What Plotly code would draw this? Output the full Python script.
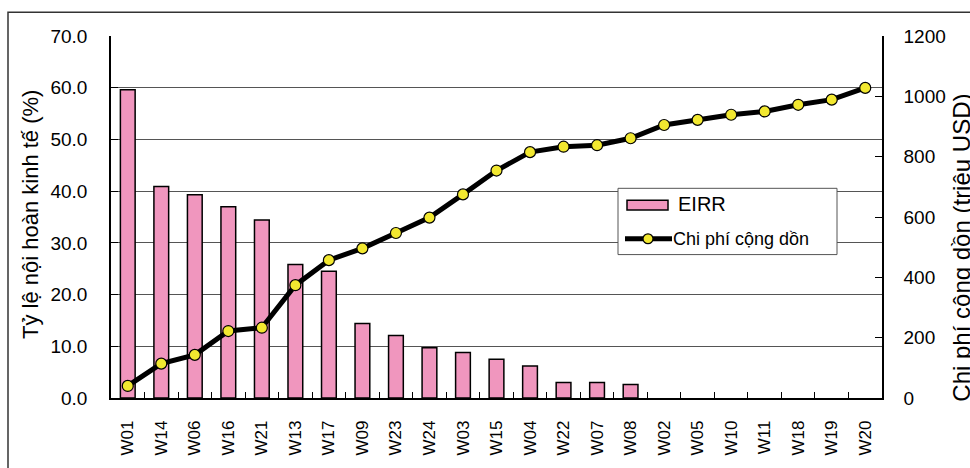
import plotly.graph_objects as go

# Project codes, ordered by descending EIRR
projects = ["W01", "W14", "W06", "W16", "W21", "W13", "W17", "W09", "W23", "W24",
            "W03", "W15", "W04", "W22", "W07", "W08", "W02", "W05", "W10", "W11",
            "W18", "W19", "W20"]

# Economic internal rate of return (%); no value for the last seven projects
eirr = [59.6, 40.9, 39.3, 37.0, 34.4, 25.8, 24.5, 14.4, 12.1, 9.7,
        8.8, 7.5, 6.2, 3.0, 3.0, 2.6, None, None, None, None,
        None, None, None]

# Cumulative cost (million USD)
cum_cost = [40, 114, 143, 222, 233, 374, 457, 496, 547, 598,
            675, 754, 815, 833, 838, 861, 905, 922, 939, 950,
            972, 989, 1028]

left_ticks = [0, 10, 20, 30, 40, 50, 60, 70]
right_ticks = [0, 200, 400, 600, 800, 1000, 1200]

BAR_NAME = "EIRR"
LINE_NAME = "Chi phí cộng dồn"

FONT = "Liberation Sans, Arial, sans-serif"
BAR_COLOR = "#F096BE"
MARK_COLOR = "#F2E830"

# plot area in pixels
L, R, T, B = 111, 882, 36, 402
W, H = R - L, B - T


def px(x):
    return (x - L) / W


def py(y):
    return (B - y) / H


fig = go.Figure()

fig.add_trace(go.Bar(
    x=projects, y=eirr, name=BAR_NAME,
    marker=dict(color=BAR_COLOR, line=dict(color="black", width=1.5)),
    yaxis="y",
))

fig.add_trace(go.Scatter(
    x=projects, y=cum_cost, name=LINE_NAME,
    mode="lines+markers",
    line=dict(color="black", width=5),
    marker=dict(color=MARK_COLOR, size=11, line=dict(color="black", width=1.2)),
    yaxis="y2",
))

# legend drawn as a framed box with its own keys
legend_shapes = [
    dict(type="rect", xref="paper", yref="paper",
         x0=px(618), x1=px(837), y0=py(257), y1=py(190),
         line=dict(color="#555555", width=1), fillcolor="white", layer="above"),
    dict(type="rect", xref="paper", yref="paper",
         x0=px(627), x1=px(668), y0=py(212), y1=py(202),
         line=dict(color="black", width=1.5), fillcolor=BAR_COLOR, layer="above"),
    dict(type="line", xref="paper", yref="paper",
         x0=px(625), x1=px(672), y0=py(241), y1=py(241),
         line=dict(color="black", width=5), layer="above"),
    dict(type="circle", xref="paper", yref="paper",
         x0=px(643), x1=px(653), y0=py(246), y1=py(236),
         line=dict(color="black", width=1.2), fillcolor=MARK_COLOR, layer="above"),
]

legend_texts = [
    dict(text=BAR_NAME, xref="paper", yref="paper", x=px(676), y=py(206),
         xanchor="left", yanchor="middle", showarrow=False,
         font=dict(family=FONT, size=20, color="black")),
    dict(text=LINE_NAME, xref="paper", yref="paper", x=px(671), y=py(241),
         xanchor="left", yanchor="middle", showarrow=False,
         font=dict(family=FONT, size=18, color="black")),
]

fig.update_layout(
    width=970, height=468,
    margin=dict(l=L, r=970 - R, t=T, b=468 - B),
    paper_bgcolor="white", plot_bgcolor="white",
    font=dict(family=FONT, color="black", size=18),
    bargap=0.56,
    showlegend=False,
    xaxis=dict(
        type="category", range=[-0.5, len(projects) - 0.5],
        tickangle=-90, tickfont=dict(size=17),
        ticks="inside", tickson="boundaries", ticklen=6, tickcolor="black",
        showline=True, linecolor="black", linewidth=1.5,
        showgrid=False, ticklabelstandoff=14,
    ),
    yaxis=dict(
        range=[0, 70], tickvals=left_ticks, tickformat=".1f",
        tickfont=dict(size=19),
        ticks="inside", ticklen=7, tickcolor="black",
        showline=True, linecolor="black", linewidth=1.5,
        showgrid=True, gridcolor="#555555", gridwidth=1,
        zeroline=False, ticklabelstandoff=18,
    ),
    yaxis2=dict(
        range=[0, 1200], tickvals=right_ticks, overlaying="y", side="right",
        tickfont=dict(size=19),
        ticks="inside", ticklen=7, tickcolor="black",
        showline=True, linecolor="black", linewidth=1.5,
        showgrid=False, zeroline=False, ticklabelstandoff=16,
    ),
    annotations=[
        dict(text="Tỷ lệ nội hoàn kinh tế (%)", textangle=-90,
             xref="paper", yref="paper", x=px(30), y=py(217),
             xanchor="center", yanchor="middle", showarrow=False,
             font=dict(family=FONT, size=22, color="black")),
        dict(text="Chi phí cộng dồn (triệu USD)", textangle=-90,
             xref="paper", yref="paper", x=px(962), y=py(250),
             xanchor="center", yanchor="middle", showarrow=False,
             font=dict(family=FONT, size=24, color="black")),
    ] + legend_texts,
    shapes=[
        # outer frame of the chart
        dict(type="rect", xref="paper", yref="paper",
             x0=px(8), x1=1.3, y0=-0.4, y1=py(12),
             line=dict(color="#333333", width=1.5), fillcolor="rgba(0,0,0,0)",
             layer="below"),
    ] + legend_shapes,
)

fig.write_html("out.html")
